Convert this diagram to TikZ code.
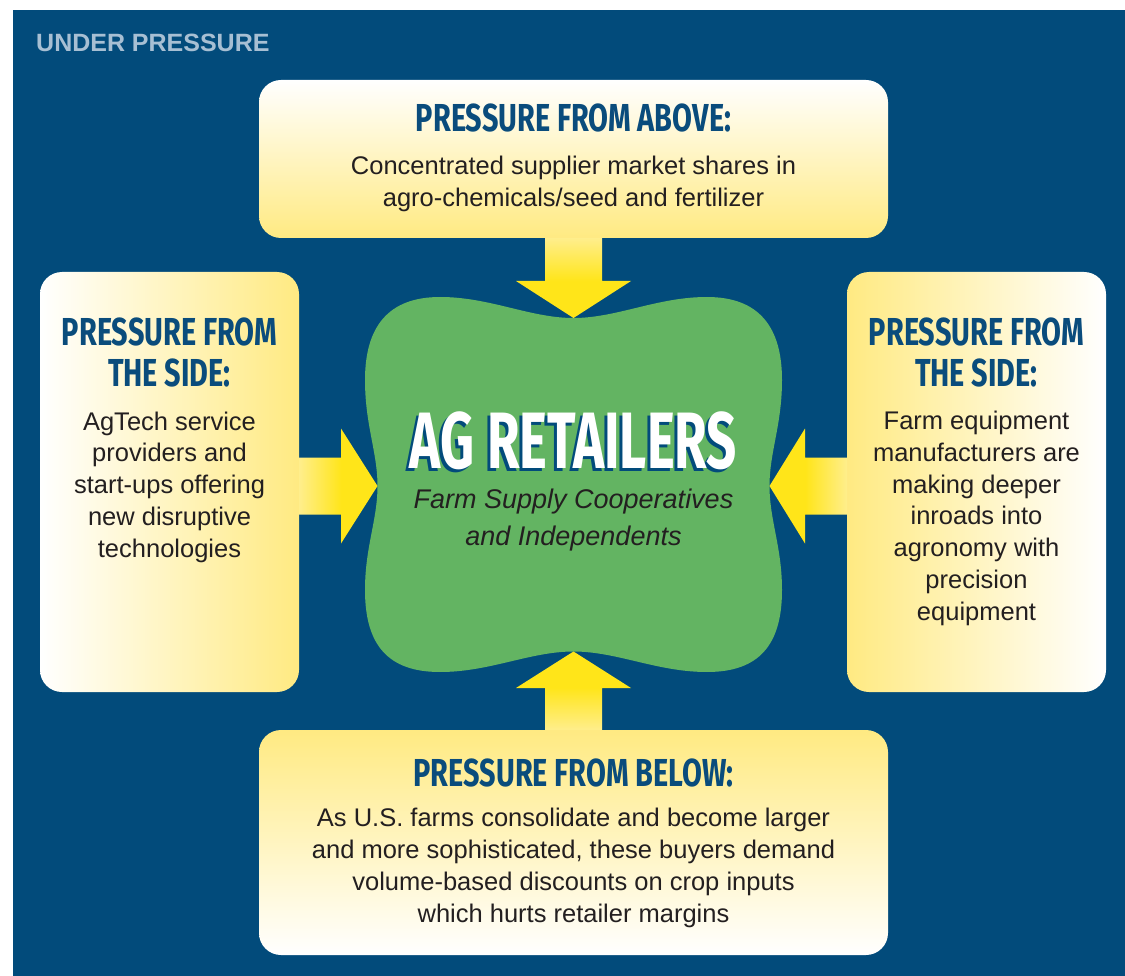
\documentclass[tikz,border=0pt]{standalone}
\usepackage{fontspec}
\setmainfont{Liberation Sans}
\newfontfamily\headfont[FakeStretch=0.74]{Fira Sans}
\newfontfamily\bigfont[FakeStretch=0.66]{Fira Sans}
\usetikzlibrary{calc}

\newlength{\du}
\setlength{\du}{1pt}

\definecolor{bgblue}{RGB}{2,75,123}
\definecolor{headblue}{RGB}{10,76,124}
\definecolor{tagblue}{RGB}{167,191,211}
\definecolor{blobgreen}{RGB}{99,180,98}
\definecolor{boxgold}{RGB}{255,234,130}
\definecolor{palegold}{RGB}{255,238,140}
\definecolor{arrowgold}{RGB}{255,229,25}
\definecolor{inkcolor}{RGB}{35,31,32}

\pgfdeclarehorizontalshading{arrowfade}{100bp}{color(0bp)=(palegold); color(25bp)=(palegold); color(52bp)=(arrowgold); color(100bp)=(arrowgold)}

% multi-line nodes sit on the baseline of their last line
\tikzset{
  panel/.style={shade, rounded corners=22\du, inner sep=0pt, outer sep=0pt},
  blockarrow/.style={shading=arrowfade},
  heading/.style={font=\headfont\bfseries\fontsize{39}{42}\selectfont, text=headblue, align=center, anchor=base, inner sep=0pt},
  bodytext/.style={font=\fontsize{25.5}{31.7}\selectfont, text=inkcolor, align=center, anchor=base, inner sep=0pt},
  bigtitle/.style={font=\bigfont\bfseries\fontsize{80}{80}\selectfont, anchor=base, inner sep=0pt},
}

\begin{document}
\begin{tikzpicture}[x=1\du, y=-1\du]
\fill[white] (0,0) rectangle (1125,976);
\useasboundingbox (0,0) rectangle (1125,976);
\fill[bgblue] (13,10) rectangle (1125,976);
\node[anchor=base west, inner sep=0pt, text=tagblue, font=\bfseries\fontsize{25}{30}\selectfont] (tag) at (36,52) {UNDER PRESSURE};

% the four pressure panels
\node[panel, minimum width=629\du, minimum height=158\du, top color=white, bottom color=boxgold] (pabove) at (573.5,159) {};
\node[panel, minimum width=259\du, minimum height=420\du, left color=white, right color=boxgold] (pleft) at (169.5,482) {};
\node[panel, minimum width=259\du, minimum height=420\du, left color=boxgold, right color=white] (pright) at (976.5,482) {};
\node[panel, minimum width=629\du, minimum height=225\du, top color=boxgold, bottom color=white] (pbelow) at (573.5,842.5) {};

% retailer blob, pinched in at the four arrow tips
\coordinate (blobN) at (573.5,318);
\coordinate (blobS) at (573.5,651.5);
\coordinate (blobW) at (377.5,486);
\coordinate (blobE) at (769.5,486);
\fill[blobgreen] (blobN) .. controls (530,318) and (490,297) .. (440,297)
  .. controls (388,297) and (365,327) .. (365,380)
  .. controls (365,425) and (377.5,452) .. (blobW)
  .. controls (377.5,520) and (365,547) .. (365,590)
  .. controls (365,645) and (388,672) .. (440,672)
  .. controls (490,672) and (530,651.5) .. (blobS)
  .. controls (617,651.5) and (657,672) .. (707,672)
  .. controls (759,672) and (782,645) .. (782,590)
  .. controls (782,547) and (769.5,520) .. (blobE)
  .. controls (769.5,452) and (782,425) .. (782,380)
  .. controls (782,327) and (759,297) .. (707,297)
  .. controls (657,297) and (617,318) .. (blobN) -- cycle;

% block arrows
\shade[blockarrow, shading angle=270] ($(pabove.south)+(-28.5,0)$) -- ++(0,43) -- ++(-29,0) -- (blobN) -- ++(57.5,-37) -- ++(-29,0) -- ($(pabove.south)+(28.5,0)$) -- cycle;
\shade[blockarrow, shading angle=0] ($(pleft.east |- blobW)+(0,-28.5)$) -- ++(42,0) -- ++(0,-29) -- (blobW) -- ++(-36.5,57.5) -- ++(0,-29) -- ($(pleft.east |- blobW)+(0,28.5)$) -- cycle;
\shade[blockarrow, shading angle=180] ($(pright.west |- blobE)+(0,-28.5)$) -- ++(-42,0) -- ++(0,-29) -- (blobE) -- ++(35.5,57.5) -- ++(0,-29) -- ($(pright.west |- blobE)+(0,28.5)$) -- cycle;
\shade[blockarrow, shading angle=90] ($(pbelow.north)+(-28.5,0)$) -- ++(0,-42) -- ++(-29,0) -- (blobS) -- ++(57.5,36.5) -- ++(-29,0) -- ($(pbelow.north)+(28.5,0)$) -- cycle;

% title with offset shadow
\node[bigtitle, text=bgblue] (retailshadow) at (570.5,471) {AG RETAILERS};
\node[bigtitle, text=white] (retail) at (573.5,468) {AG RETAILERS};
\node[bodytext, font=\itshape\fontsize{27}{36.5}\selectfont] (retailsub) at (573.5,545) {Farm Supply Cooperatives\\and Independents};

\node[heading] (abovehead) at (573.5,131.7) {PRESSURE FROM ABOVE:};
\node[bodytext] (abovetext) at (573.5,206.5) {Concentrated supplier market shares in\\agro-chemicals/seed and fertilizer};

\node[heading] (lefthead) at (169.5,387) {PRESSURE FROM\\THE SIDE:};
\node[bodytext] (lefttext) at (169.5,557) {AgTech service\\providers and\\start-ups offering\\new disruptive\\technologies};

\node[heading] (righthead) at (976.5,387) {PRESSURE FROM\\THE SIDE:};
\node[bodytext] (righttext) at (976.5,620) {Farm equipment\\manufacturers are\\making deeper\\inroads into\\agronomy with\\precision\\equipment};

\node[heading] (belowhead) at (573.5,786) {PRESSURE FROM BELOW:};
\node[bodytext] (belowtext) at (573.5,922) {As U.S. farms consolidate and become larger\\and more sophisticated, these buyers demand\\volume-based discounts on crop inputs\\which hurts retailer margins};
\end{tikzpicture}
\end{document}
